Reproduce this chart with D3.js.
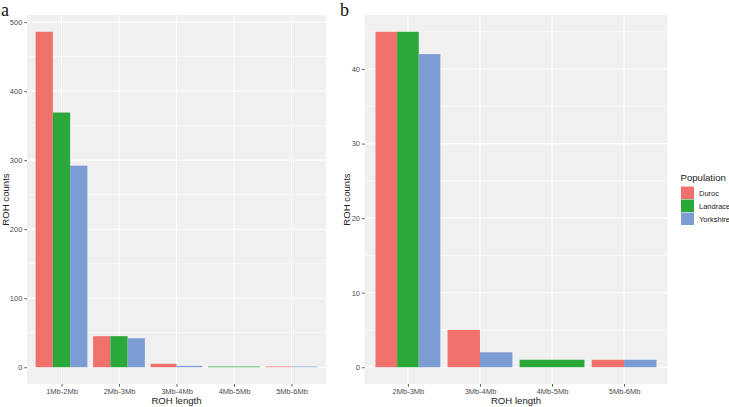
<!DOCTYPE html>
<html><head><meta charset="utf-8">
<script src="https://cdn.jsdelivr.net/npm/d3@7/dist/d3.min.js"></script>
<style>body{margin:0;background:#fff}svg{display:block}</style>
</head><body><svg id="c" width="729" height="407"></svg>
<script>
const populations = ["Duroc", "Landrace", "Yorkshire"];
const colors = ["#F0716B", "#2BA83A", "#7B9DD3"];
const catsA = ["1Mb-2Mb", "2Mb-3Mb", "3Mb-4Mb", "4Mb-5Mb", "5Mb-6Mb"];
// null = group absent in that category
const durocA = [486, 45, 5, null, 1];
const landraceA = [369, 45, null, 1, null];
const yorkshireA = [292, 42, 2, null, 1];
const ticksA = [0, 100, 200, 300, 400, 500];
const catsB = ["2Mb-3Mb", "3Mb-4Mb", "4Mb-5Mb", "5Mb-6Mb"];
const durocB = [45, 5, null, 1];
const landraceB = [45, null, 1, null];
const yorkshireB = [42, 2, null, 1];
const ticksB = [0, 10, 20, 30, 40];

const svg = d3.select("#c");
const font = "'Liberation Sans', Arial, sans-serif";

function panel(opt) {
  const {x0, x1, y0, y1, cats, series, ticks, label, labelX, ylabX} = opt;
  const g = svg.append("g");
  const maxV = d3.max(series.flat().filter(v => v != null));
  const y = d3.scaleLinear().domain([-0.05 * maxV, maxV * 1.05]).range([y1, y0]);
  const x = d3.scalePoint().domain(cats).range([x0, x1]).padding(0.6);
  const step = x.step();
  g.append("rect").attr("x", x0).attr("y", y0).attr("width", x1 - x0).attr("height", y1 - y0).attr("fill", "#F0F0F0");
  // minor gridlines
  const minor = [];
  for (let i = 0; i < ticks.length; i++) {
    const m = ticks[i] + (ticks[1] - ticks[0]) / 2;
    if (y(m) > y0) minor.push(m);
  }
  g.selectAll(".mn").data(minor).enter().append("line")
    .attr("x1", x0).attr("x2", x1).attr("y1", d => y(d)).attr("y2", d => y(d))
    .attr("stroke", "#fff").attr("stroke-width", 0.6);
  g.selectAll(".mj").data(ticks).enter().append("line")
    .attr("x1", x0).attr("x2", x1).attr("y1", d => y(d)).attr("y2", d => y(d))
    .attr("stroke", "#fff").attr("stroke-width", 1.1);
  g.selectAll(".vx").data(cats).enter().append("line")
    .attr("x1", d => x(d)).attr("x2", d => x(d)).attr("y1", y0).attr("y2", y1)
    .attr("stroke", "#fff").attr("stroke-width", 1.1);
  // bars with dodge (preserve total)
  cats.forEach((c, ci) => {
    const present = [];
    series.forEach((s, si) => { if (s[ci] != null) present.push(si); });
    const w = step * 0.9 / present.length;
    const left = x(c) - step * 0.45;
    present.forEach((si, k) => {
      const v = series[si][ci];
      g.append("rect").attr("x", left + k * w).attr("width", w)
        .attr("y", y(v)).attr("height", y(0) - y(v))
        .attr("fill", colors[si]);
    });
  });
  // axes
  const ay = g.append("g").attr("transform", `translate(${x0},0)`)
    .call(d3.axisLeft(y).tickValues(ticks).tickSize(2.7).tickPadding(2));
  const ax = g.append("g").attr("transform", `translate(0,${y1})`)
    .call(d3.axisBottom(x).tickSize(2.7).tickPadding(2));
  [ax, ay].forEach(a => {
    a.select(".domain").remove();
    a.selectAll("line").attr("stroke", "#333").attr("stroke-width", 0.8);
    a.selectAll("text").attr("fill", "#4D4D4D").style("font-family", font).style("font-size", "7.5px");
  });
  g.append("text").attr("x", (x0 + x1) / 2).attr("y", 404).attr("text-anchor", "middle")
    .style("font-family", font).style("font-size", "9.6px").attr("fill", "#222").text("ROH length");
  g.append("text").attr("transform", `translate(${ylabX},${(y0 + y1) / 2}) rotate(-90)`)
    .attr("text-anchor", "middle").style("font-family", font).style("font-size", "9.6px")
    .attr("fill", "#222").text("ROH counts");
  g.append("text").attr("x", labelX).attr("y", 16).style("font-family", "'Liberation Serif', 'Times New Roman', serif")
    .style("font-size", "18px").attr("fill", "#111").text(label);
}

panel({x0: 27, x1: 326, y0: 15, y1: 384, cats: catsA, series: [durocA, landraceA, yorkshireA],
  ticks: ticksA, label: "a", labelX: 1, ylabX: 8.5});
panel({x0: 364.7, x1: 667.3, y0: 15, y1: 384, cats: catsB, series: [durocB, landraceB, yorkshireB],
  ticks: ticksB, label: "b", labelX: 340, ylabX: 350});

// legend
const lg = svg.append("g");
lg.append("text").attr("x", 680.5).attr("y", 181).style("font-family", font).style("font-size", "9.6px")
  .attr("fill", "#222").text("Population");
populations.forEach((p, i) => {
  lg.append("rect").attr("x", 681).attr("y", 186.5 + i * 13).attr("width", 13).attr("height", 12.5).attr("fill", colors[i]);
  lg.append("text").attr("x", 699).attr("y", 193 + i * 13).attr("dy", "0.35em")
    .style("font-family", font).style("font-size", "7.5px").attr("fill", "#222").text(p);
});
</script></body></html>
